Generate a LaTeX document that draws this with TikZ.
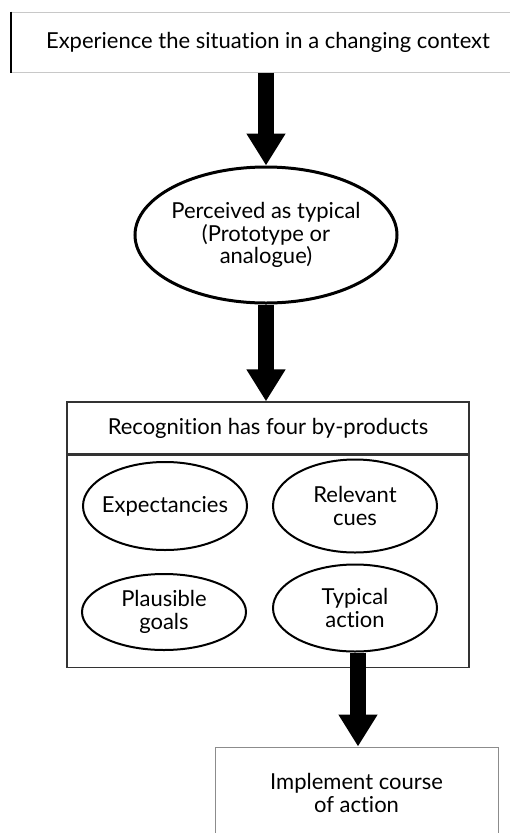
\documentclass[tikz,border=0pt]{standalone}
\usepackage{fontspec}
\setmainfont{Lato}[Ligatures=NoCommon]
\usepackage{tikz}
\usetikzlibrary{arrows.meta,positioning,shapes.geometric}
\definecolor{rdgray}{HTML}{333333}
\definecolor{rdlight}{HTML}{C8C8C8}
\definecolor{rdmid}{HTML}{8C8C8C}
\begin{document}
\begin{tikzpicture}[
    x=1pt,
    y=-1pt,
    font=\fontsize{22}{22.5}\selectfont,
    box/.style={rectangle, draw=rdgray, line width=1.3pt, inner sep=0pt, align=center},
    oval/.style={ellipse, draw=black, line width=2pt, inner ysep=0pt, inner xsep=-8pt, align=center, minimum width=164pt, minimum height=88pt},
    flow/.style={-{Triangle[width=37pt,length=32pt]}, line width=16pt, draw=black}
  ]
    \useasboundingbox (0,0) rectangle (509,833);
    \node[box, draw=rdlight, line width=1pt, minimum width=514pt, minimum height=60pt] (exp) at (268,42) {Experience the situation in a changing context};
    \draw[line width=2pt] (exp.north west) -- (exp.south west);
    \node[oval, line width=3pt, minimum width=262pt, minimum height=136pt] (perc) at (266,235) {Perceived as typical\\(Prototype or\\analogue)};

    \node[box, minimum width=402pt, minimum height=52pt] (rec) at (268,428) {Recognition has four by-products};
    \node[box, minimum width=402pt, minimum height=212pt, below=0pt of rec] (prod) {};
    \node[oval] (expc) at (165,506) {Expectancies};
    \node[oval, minimum height=93pt] (cues) at (355,506) {Relevant\\cues};
    \node[oval, minimum height=76pt] (goal) at (164,612) {Plausible\\goals};
    \node[oval, minimum height=87pt] (act) at (355,608) {Typical\\action};

    \node[box, draw=rdmid, line width=1pt, minimum width=283pt, minimum height=92pt] (impl) at (356.5,793) {Implement course\\of action};

    \coordinate (acx) at (358,0);
    \draw[flow] (exp.south -| perc) -- (perc.north);
    \draw[flow] (perc.south) -- (rec.north -| perc);
    \draw[flow] (act.south -| acx) -- (impl.north -| acx);
  \end{tikzpicture}
\end{document}
